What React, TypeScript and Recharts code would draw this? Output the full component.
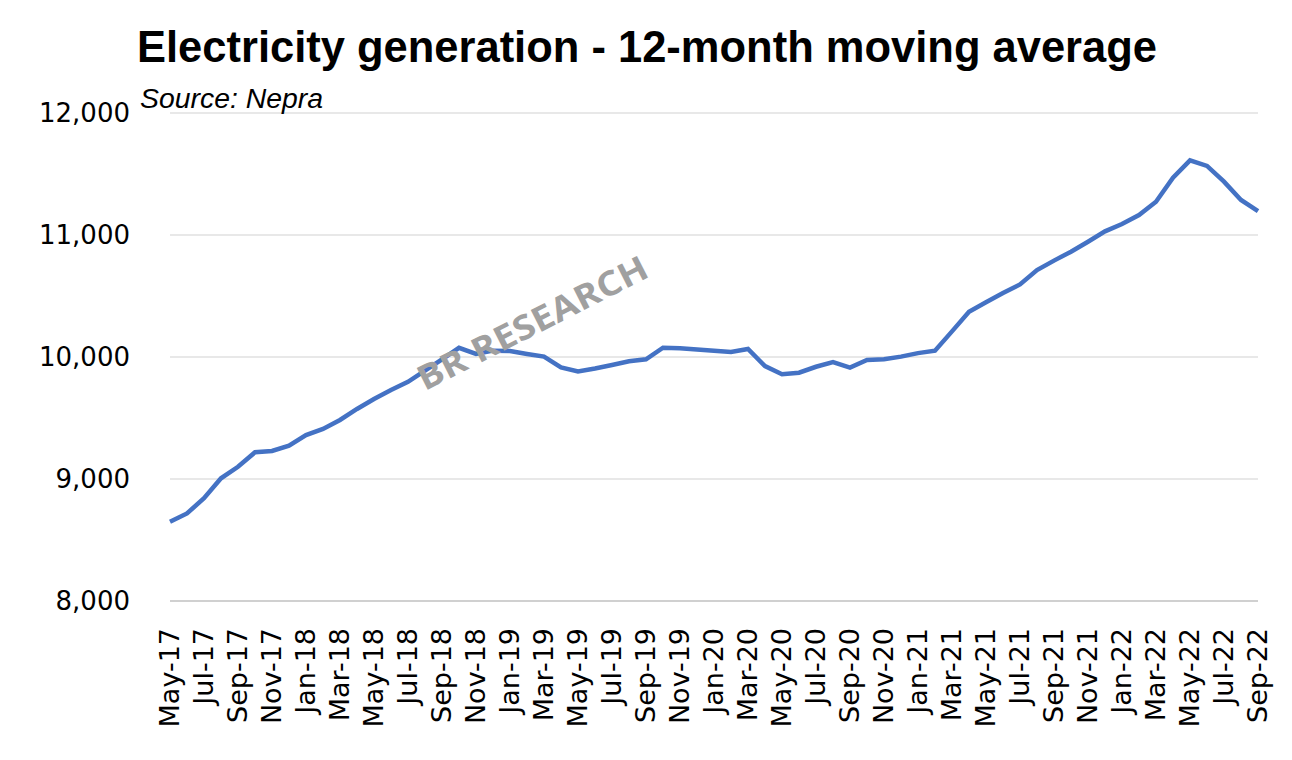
import React from "react";
import { LineChart, Line, XAxis, YAxis, CartesianGrid } from "recharts";

const months: string[] = [
  "May-17", "Jun-17", "Jul-17", "Aug-17", "Sep-17", "Oct-17", "Nov-17", "Dec-17",
  "Jan-18", "Feb-18", "Mar-18", "Apr-18", "May-18", "Jun-18", "Jul-18", "Aug-18", "Sep-18", "Oct-18", "Nov-18", "Dec-18",
  "Jan-19", "Feb-19", "Mar-19", "Apr-19", "May-19", "Jun-19", "Jul-19", "Aug-19", "Sep-19", "Oct-19", "Nov-19", "Dec-19",
  "Jan-20", "Feb-20", "Mar-20", "Apr-20", "May-20", "Jun-20", "Jul-20", "Aug-20", "Sep-20", "Oct-20", "Nov-20", "Dec-20",
  "Jan-21", "Feb-21", "Mar-21", "Apr-21", "May-21", "Jun-21", "Jul-21", "Aug-21", "Sep-21", "Oct-21", "Nov-21", "Dec-21",
  "Jan-22", "Feb-22", "Mar-22", "Apr-22", "May-22", "Jun-22", "Jul-22", "Aug-22", "Sep-22",
];

const generation: number[] = [
  8650, 8718, 8842, 9006, 9100, 9219, 9230, 9273,
  9360, 9410, 9484, 9574, 9656, 9730, 9797, 9888, 9981, 10075, 10025, 10052,
  10049, 10025, 10003, 9915, 9882, 9906, 9934, 9965, 9981, 10076, 10071, 10062,
  10052, 10041, 10066, 9925, 9858, 9871, 9920, 9958, 9913, 9975, 9981, 10003,
  10032, 10052, 10210, 10371, 10448, 10524, 10595, 10713, 10790, 10863, 10945, 11030,
  11090, 11164, 11273, 11470, 11612, 11566, 11437, 11287, 11195,
];

const yTicks: number[] = [8000, 9000, 10000, 11000, 12000];

const titleText = "Electricity generation - 12-month moving average";
const sourceText = "Source: Nepra";
const watermarkText = "BR RESEARCH";

const data = months.map((m, i) => ({ month: m, value: generation[i] }));

const AXIS_FONT = "'DejaVu Sans', sans-serif";

const XTick = (props: any) => {
  const { x, y, payload } = props;
  return (
    <text
      x={x}
      y={y}
      transform={`rotate(-90, ${x}, ${y})`}
      textAnchor="end"
      dy="0.35em"
      fontSize={27}
      fontFamily={AXIS_FONT}
      fill="#000"
    >
      {payload.value}
    </text>
  );
};

export default function App() {
  return (
    <div style={{ position: "absolute", left: 0, top: 0, width: 1292, height: 760, background: "#fff" }}>
      <LineChart
        width={1292}
        height={760}
        data={data}
        margin={{ top: 113, right: 34, bottom: 0, left: 0 }}
      >
        <CartesianGrid vertical={false} stroke="#e0e0e0" strokeWidth={1.5} />
        <XAxis
          dataKey="month"
          interval={1}
          height={159}
          tickLine={false}
          axisLine={{ stroke: "#d0d0d0", strokeWidth: 2 }}
          tickMargin={21}
          tick={<XTick />}
        />
        <YAxis
          domain={[8000, 12000]}
          ticks={yTicks}
          width={170}
          axisLine={false}
          tickLine={false}
          tickMargin={34}
          tick={{ fontSize: 26, fill: "#000", fontFamily: AXIS_FONT }}
          tickFormatter={(v: number) => v.toLocaleString("en-US")}
        />
        <Line
          type="linear"
          dataKey="value"
          stroke="#4472C4"
          strokeWidth={4.5}
          dot={false}
          isAnimationActive={false}
        />
      </LineChart>
      <svg
        width={1292}
        height={760}
        style={{ position: "absolute", left: 0, top: 0, pointerEvents: "none" }}
      >
        <text
          x={137}
          y={62}
          fontSize={44}
          fontWeight="bold"
          fontFamily="'Liberation Sans', Arial, sans-serif"
          textLength={1020}
          lengthAdjust="spacingAndGlyphs"
          fill="#000"
        >
          {titleText}
        </text>
        <text
          x={140}
          y={108}
          fontSize={27}
          fontStyle="italic"
          fontFamily="'Liberation Sans', Arial, sans-serif"
          textLength={183}
          lengthAdjust="spacingAndGlyphs"
          fill="#000"
        >
          {sourceText}
        </text>
        <text
          x={532}
          y={322}
          transform="rotate(-27, 532, 322)"
          textAnchor="middle"
          dominantBaseline="central"
          fontSize={34}
          fontWeight="bold"
          fontFamily="'Open Sans', 'DejaVu Sans', sans-serif"
          textLength={254}
          lengthAdjust="spacingAndGlyphs"
          fill="#a0a0a0"
        >
          {watermarkText}
        </text>
      </svg>
    </div>
  );
}
